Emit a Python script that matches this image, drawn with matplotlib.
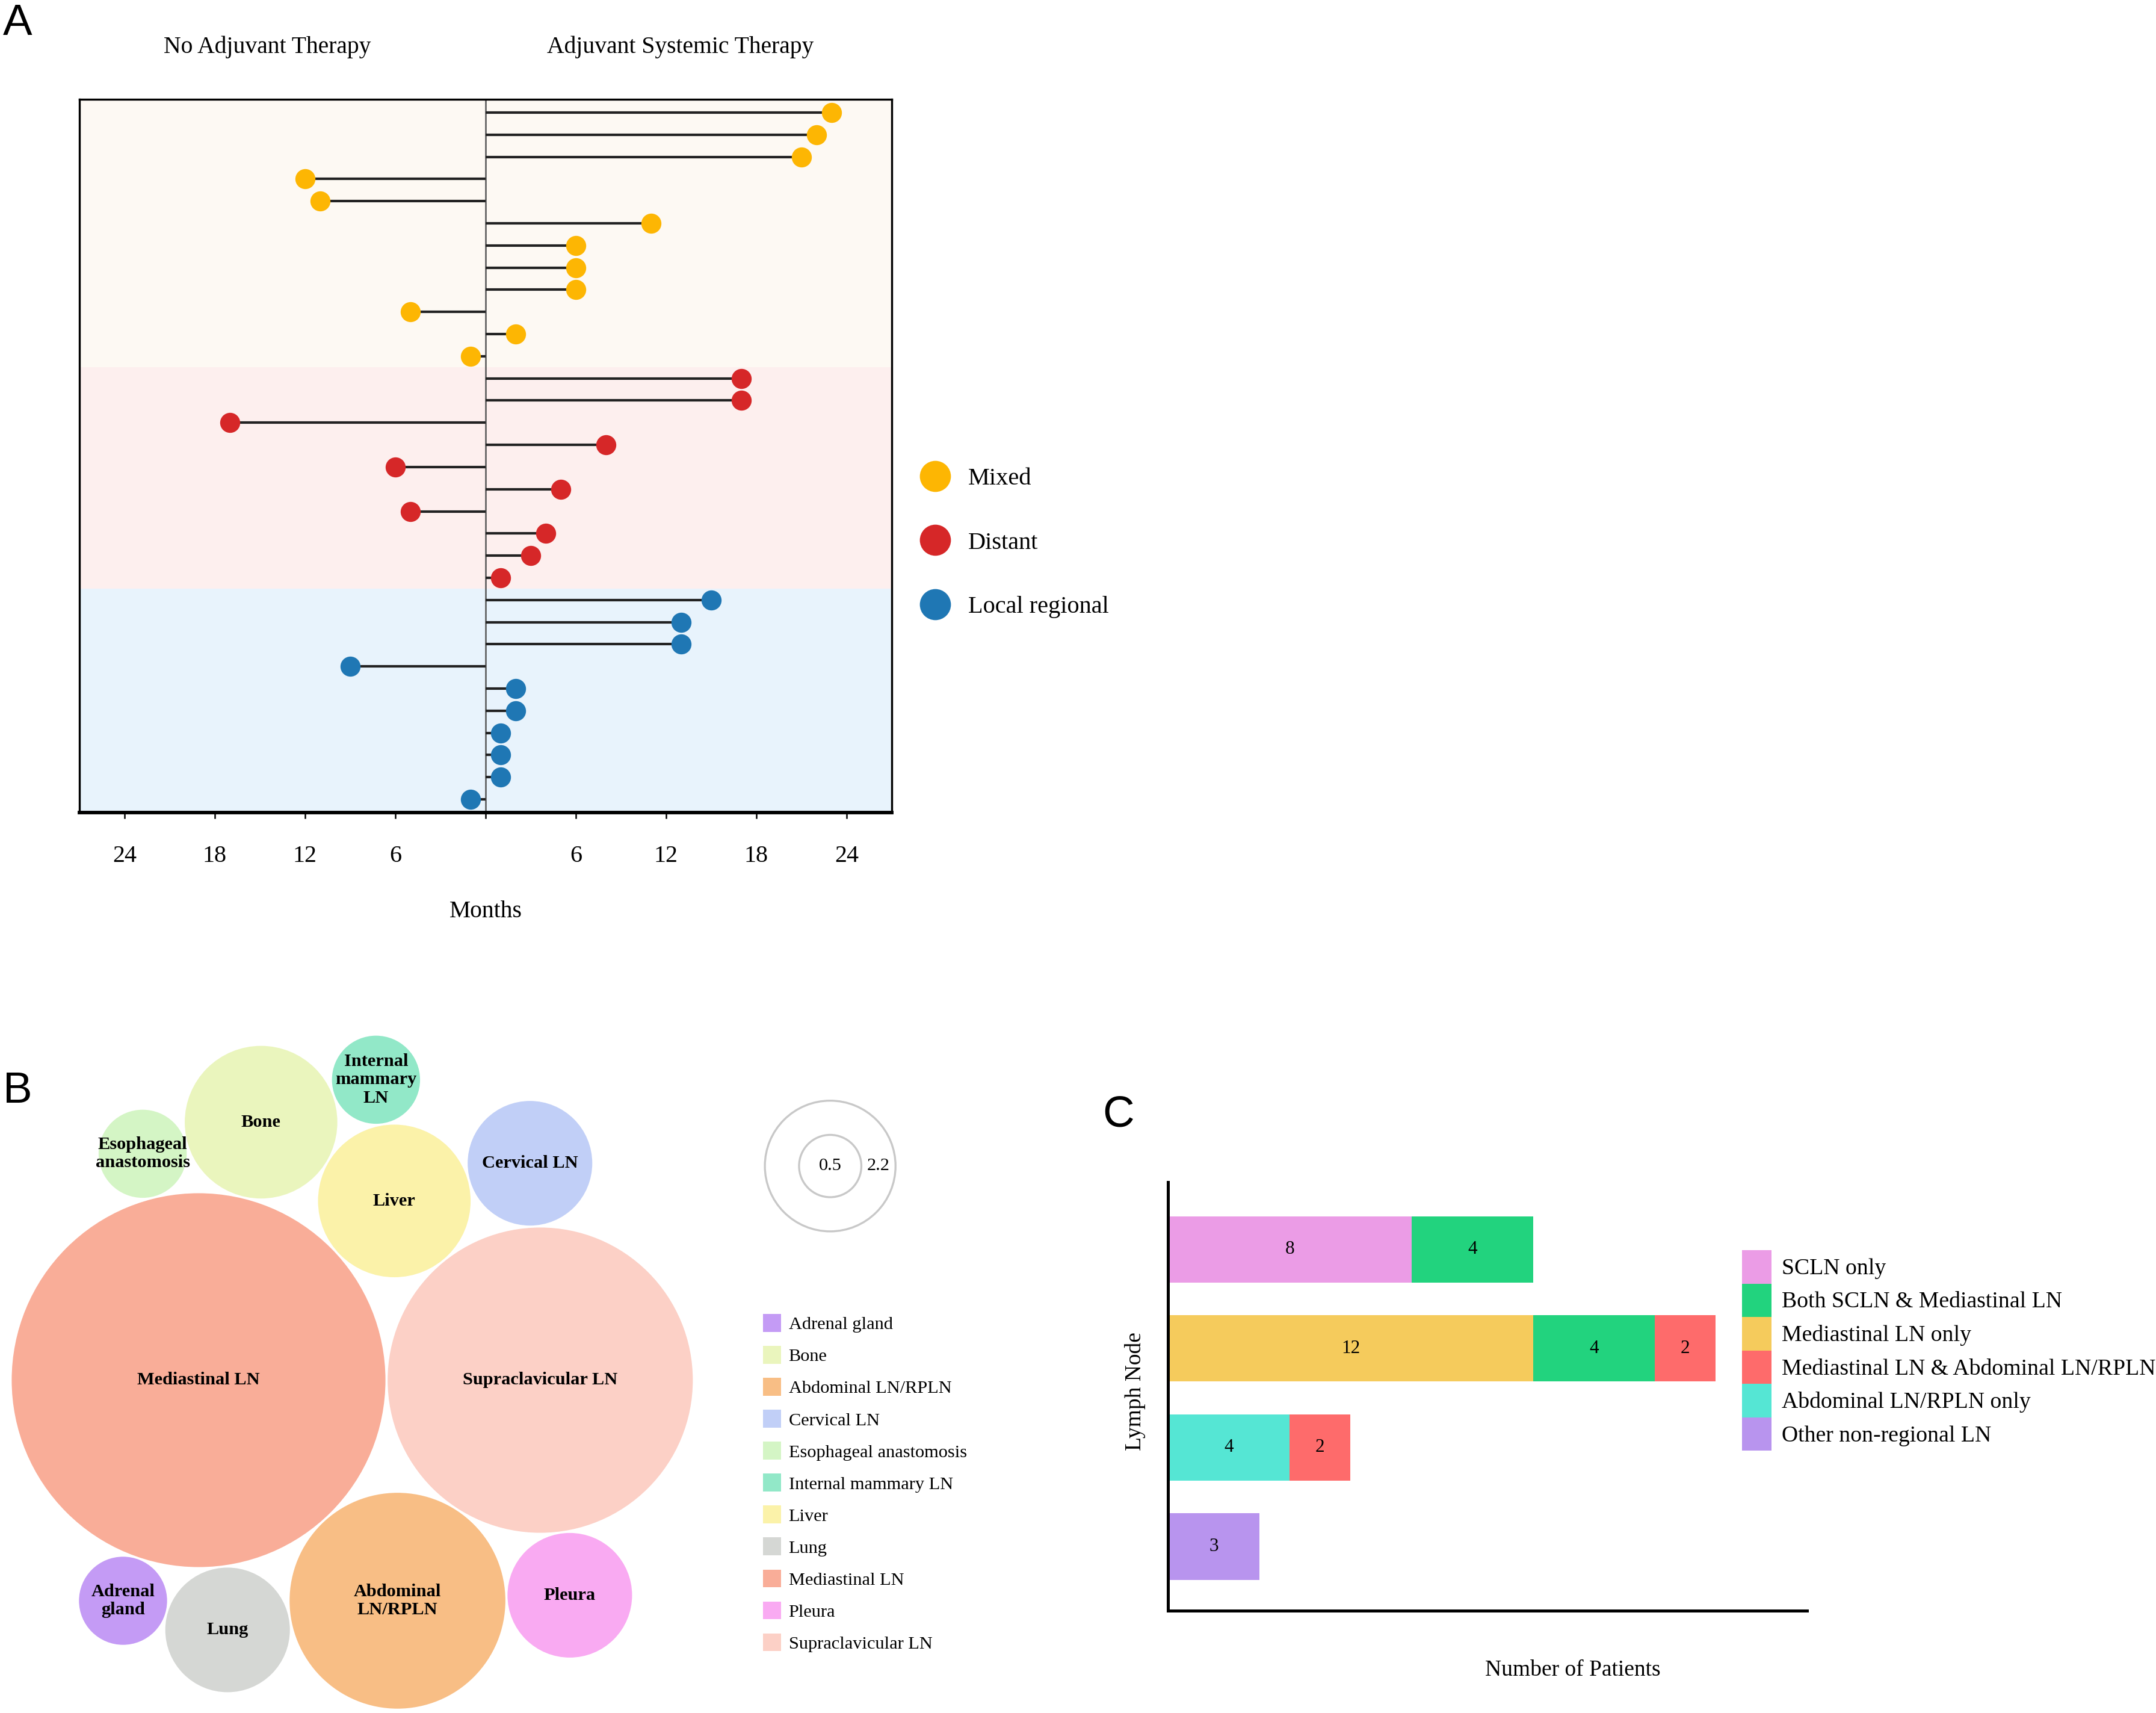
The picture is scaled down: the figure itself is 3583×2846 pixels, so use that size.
import numpy as np
import matplotlib
matplotlib.use('Agg')
import matplotlib.pyplot as plt
from matplotlib.patches import Circle, Patch
from matplotlib.lines import Line2D

plt.rcParams['font.family'] = ['Liberation Serif', 'DejaVu Serif']

W, H, DPI = 3583, 2846, 300

# ---- panel A: months to recurrence, grouped by recurrence pattern (top to bottom)
mixed_months = [23, 22, 21, -12, -11, 11, 6, 6, 6, -5, 2, -1]
distant_months = [17, 17, -17, 8, -6, 5, -5, 4, 3, 1]
local_months = [15, 13, 13, -9, 2, 2, 1, 1, 1, -1]
group_names = ['Mixed', 'Distant', 'Local regional']
group_colors = ['#FDB603', '#D62728', '#1F77B4']
band_colors = ['#FDF9F3', '#FDEFEE', '#E8F3FC']
month_ticks = [-24, -18, -12, -6, 0, 6, 12, 18, 24]

# ---- panel B: recurrence sites
site_names = ['Adrenal gland', 'Bone', 'Abdominal LN/RPLN', 'Cervical LN',
              'Esophageal anastomosis', 'Internal mammary LN', 'Liver', 'Lung',
              'Mediastinal LN', 'Pleura', 'Supraclavicular LN']
site_labels = ['Adrenal\ngland', 'Bone', 'Abdominal\nLN/RPLN', 'Cervical LN',
               'Esophageal\nanastomosis', 'Internal\nmammary\nLN', 'Liver', 'Lung',
               'Mediastinal LN', 'Pleura', 'Supraclavicular LN']
site_counts = [1, 3, 6, 2, 1, 1, 3, 2, 18, 2, 12]
site_colors = ['#C49BF5', '#EAF5BD', '#F8BE85', '#C1CFF7', '#D4F5C5', '#92E8C8',
               '#FBF2A9', '#D5D7D4', '#F9AD98', '#F9AAF2', '#FCD0C6']
size_legend_values = [2.2, 0.5]

# ---- panel C: lymph node patterns
row_names = ['SCLN', 'Mediastinal', 'Abdominal', 'Other']  # top to bottom
pattern_names = ['SCLN only', 'Mediastinal LN only', 'Abdominal LN/RPLN only',
                 'Other non-regional LN', 'Both SCLN & Mediastinal LN',
                 'Mediastinal LN & Abdominal LN/RPLN']
pattern_values = [[8, 0, 0, 0], [0, 12, 0, 0], [0, 0, 4, 0], [0, 0, 0, 3],
                  [4, 4, 0, 0], [0, 2, 2, 0]]
pattern_colors = ['#EB9CE6', '#F5CB5C', '#55E6D4', '#B894EE', '#22D37E', '#FE6B6B']
legend_order = [0, 4, 1, 5, 2, 3]

fig = plt.figure(figsize=(W / DPI, H / DPI), dpi=DPI)

def fx(px):
    return px / W

def fy(py):
    return 1 - py / H

# ================= A =================
axA = fig.add_axes([fx(132), fy(1350), fx(1482 - 132), (1350 - 165) / H])
groups = [mixed_months, distant_months, local_months]
n_rows = sum(len(g) for g in groups)
axA.set_xlim(-27, 27)
axA.set_ylim(n_rows - 0.4, -0.6)
start = 0
for i, g in enumerate(groups):
    lo = -0.6 if i == 0 else start - 0.5
    hi = n_rows - 0.4 if i == len(groups) - 1 else start + len(g) - 0.5
    axA.axhspan(lo, hi, color=band_colors[i], lw=0, zorder=0)
    ys = np.arange(start, start + len(g))
    axA.hlines(ys, 0, g, color='#222222', lw=1.0, zorder=2)
    axA.plot(g, ys, 'o', ms=7, color=group_colors[i], mec=group_colors[i], ls='none', zorder=3)
    start += len(g)
axA.axvline(0, color='#555555', lw=0.6, zorder=1)
axA.set_yticks([])
axA.set_xticks(month_ticks)
axA.set_xticklabels([str(abs(t)) if t else '' for t in month_ticks], fontsize=9.6)
axA.tick_params(axis='x', direction='out', length=2.4, width=0.6, pad=10.5)
for s in ['top', 'left', 'right']:
    axA.spines[s].set_linewidth(0.8)
axA.spines['bottom'].set_linewidth(1.4)

fig.text(fx(444), fy(78), 'No Adjuvant Therapy', ha='center', va='center', fontsize=9.5)
fig.text(fx(1131), fy(78), 'Adjuvant Systemic Therapy', ha='center', va='center', fontsize=9.5)
fig.text(fx(807), fy(1515), 'Months', ha='center', va='center', fontsize=9.5)

handlesA = [Line2D([], [], marker='o', ls='none', ms=11.4, color=c, mec=c) for c in group_colors]
axA.legend(handlesA, group_names, loc='center left', bbox_to_anchor=(fx(1524), fy(902)),
           bbox_transform=fig.transFigure, frameon=False, fontsize=9.7,
           handlelength=1.5, handletextpad=0.6, labelspacing=1.71, borderpad=0, borderaxespad=0)

# ================= B =================
scale = 73.2  # px per unit
cx0, cy0 = 330, 2293
axB = fig.add_axes([0, 0, fx(1700), 1196 / H])
axB.set_xlim(-cx0 / scale, (1700 - cx0) / scale)
axB.set_ylim(-(H - cy0) / scale, (cy0 - 1650) / scale)
axB.axis('off')

radius = {n: np.sqrt(c) for n, c in zip(site_names, site_counts)}
gap = 0.05

def tangent_center(p1, r1, p2, r2, r, side):
    d1, d2 = r1 + r + gap, r2 + r + gap
    p1, p2 = np.asarray(p1), np.asarray(p2)
    d = np.linalg.norm(p2 - p1)
    u = (p2 - p1) / d
    a = (d1 ** 2 - d2 ** 2 + d ** 2) / (2 * d)
    h = np.sqrt(max(d1 ** 2 - a ** 2, 0))
    return p1 + a * u + side * h * np.array([-u[1], u[0]])

centers = {'Mediastinal LN': np.array([0.0, 0.0])}
centers['Supraclavicular LN'] = np.array([radius['Mediastinal LN'] + radius['Supraclavicular LN'] + gap, 0.0])
pack_plan = [('Abdominal LN/RPLN', 'Mediastinal LN', 'Supraclavicular LN', -1),
             ('Liver', 'Mediastinal LN', 'Supraclavicular LN', 1),
             ('Cervical LN', 'Liver', 'Supraclavicular LN', 1),
             ('Pleura', 'Supraclavicular LN', 'Abdominal LN/RPLN', 1),
             ('Lung', 'Mediastinal LN', 'Abdominal LN/RPLN', -1),
             ('Bone', 'Mediastinal LN', 'Liver', 1),
             ('Internal mammary LN', 'Bone', 'Liver', 1),
             ('Esophageal anastomosis', 'Mediastinal LN', 'Bone', 1),
             ('Adrenal gland', 'Mediastinal LN', 'Lung', -1)]
for name, a, b, side in pack_plan:
    centers[name] = tangent_center(centers[a], radius[a], centers[b], radius[b], radius[name], side)

for name, lab, col in zip(site_names, site_labels, site_colors):
    c = centers[name]
    axB.add_patch(Circle(c, radius[name], facecolor=col, edgecolor='none'))
    axB.text(c[0], c[1], lab, ha='center', va='center', fontsize=7.3, fontweight='bold',
             linespacing=1.15)

leg_c = (14.34, 4.86)
for v in size_legend_values:
    axB.add_patch(Circle(leg_c, np.sqrt(v), fill=False, edgecolor='#C8C8C8', lw=0.8))
r_small, r_big = np.sqrt(min(size_legend_values)), np.sqrt(max(size_legend_values))
axB.text(leg_c[0], leg_c[1], f'{min(size_legend_values)}', ha='center', va='center', fontsize=7.3)
axB.text(leg_c[0] + (r_small + r_big) / 2, leg_c[1], f'{max(size_legend_values)}',
         ha='center', va='center', fontsize=7.3)

handlesB = [Patch(facecolor=c, edgecolor='none') for c in site_colors]
axB.legend(handlesB, site_names, loc='center left', bbox_to_anchor=(fx(1268), fy(2464)),
           bbox_transform=fig.transFigure, frameon=False, fontsize=7.3,
           handlelength=1.0, handleheight=1.12, handletextpad=0.4, labelspacing=0.72,
           borderpad=0, borderaxespad=0)

# ================= C =================
axC = fig.add_axes([fx(1941), fy(2676), fx(3003 - 1941), (2676 - 1964) / H])
ypos = np.arange(len(row_names))[::-1]
left = np.zeros(len(row_names))
for vals, col in zip(pattern_values, pattern_colors):
    vals = np.array(vals, dtype=float)
    axC.barh(ypos, vals, left=left, height=0.67, color=col, lw=0)
    for y, l, v in zip(ypos, left, vals):
        if v > 0:
            axC.text(l + v / 2, y, f'{int(v)}', ha='center', va='center', fontsize=7.5)
    left += vals
axC.set_xlim(0, 21)
axC.set_ylim(-0.648, 3.68)
axC.set_xticks([])
axC.set_yticks([])
for s in ['top', 'right']:
    axC.spines[s].set_visible(False)
axC.spines['left'].set_linewidth(1.2)
axC.spines['bottom'].set_linewidth(1.2)
fig.text(fx(1886), fy(2312), 'Lymph Node', rotation=90, ha='center', va='center', fontsize=9)
fig.text(fx(2614), fy(2775), 'Number of Patients', ha='center', va='center', fontsize=9)

handlesC = [Patch(facecolor=pattern_colors[i], edgecolor='none') for i in legend_order]
axC.legend(handlesC, [pattern_names[i] for i in legend_order], loc='upper left',
           bbox_to_anchor=(fx(2895), fy(2077)), bbox_transform=fig.transFigure,
           frameon=False, fontsize=9.05, handlelength=1.3, handleheight=1.89,
           handletextpad=0.45, labelspacing=0, borderpad=0, borderaxespad=0)

# panel letters
for letter, x, y in [('A', 5, 58), ('B', 5, 1832), ('C', 1832, 1871)]:
    fig.text(fx(x), fy(y), letter, ha='left', va='baseline', fontsize=17.5,
             family=['Liberation Sans', 'DejaVu Sans'])

fig.savefig('out.png', dpi=DPI)
